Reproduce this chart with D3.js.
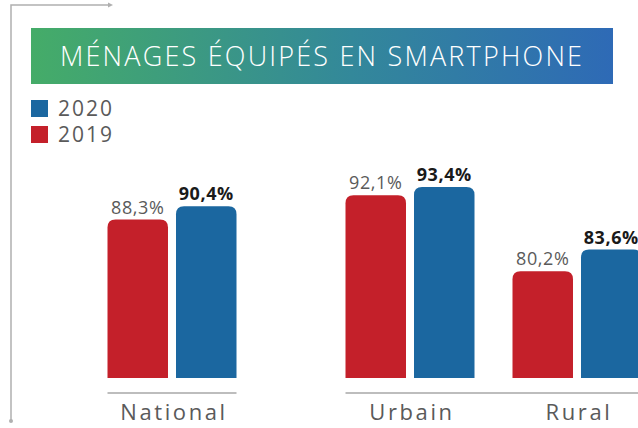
<!DOCTYPE html>
<html>
<head>
<meta charset="utf-8">
<script src="https://cdn.jsdelivr.net/npm/d3@7"></script>
<style>
  body { margin: 0; background: #fff; }
  svg { display: block; }
</style>
</head>
<body>
<svg id="chart" width="638" height="428"></svg>
<script>
var categories = ['National', 'Urbain', 'Rural'];
var groups = [0, 1, 1];            // National stands apart, Urbain + Rural share a rule
var years = ['2019', '2020'];
var values2019 = [88.3, 92.1, 80.2];
var values2020 = [90.4, 93.4, 83.6];
var legendYears = ['2020', '2019'];
var title = 'MÉNAGES ÉQUIPÉS EN SMARTPHONE';

var red = '#C4202A';
var blue = '#1B67A0';
var grey = '#5a5a5a';
var groupGap = 71;

function fmt(v) {
  return d3.format('.1f')(v).replace('.', ',') + '%';
}

function drawFrame(svg) {
  var lineColor = '#b0b0b0';
  svg.append('path')
    .attr('d', 'M11,421 L11,5 L111,5')
    .attr('fill', 'none')
    .attr('stroke', lineColor)
    .attr('stroke-width', 1.5);
  svg.append('path')
    .attr('d', 'M108,2.5 L113,5 L108,7.5 Z')
    .attr('fill', lineColor);
  svg.append('circle')
    .attr('cx', 11).attr('cy', 421).attr('r', 2)
    .attr('fill', lineColor);
}

function drawTitle(svg) {
  var grad = svg.append('defs').append('linearGradient')
    .attr('id', 'banner')
    .attr('x1', '0%').attr('x2', '100%');
  grad.append('stop').attr('offset', '0%').attr('stop-color', '#45AC68');
  grad.append('stop').attr('offset', '55%').attr('stop-color', '#33889A');
  grad.append('stop').attr('offset', '100%').attr('stop-color', '#2E6AB6');

  svg.append('rect')
    .attr('x', 31).attr('y', 28)
    .attr('width', 582).attr('height', 56)
    .attr('fill', 'url(#banner)');

  svg.append('text')
    .attr('x', 321).attr('y', 66)
    .attr('text-anchor', 'middle')
    .attr('fill', '#fff')
    .attr('textLength', 522)
    .attr('lengthAdjust', 'spacing')
    .style('font-family', '"Open Sans", sans-serif')
    .style('font-weight', 300)
    .style('font-size', '27px')
    .text(title);
}

function drawLegend(svg) {
  var color = { '2019': red, '2020': blue };
  var item = svg.append('g')
    .selectAll('g')
    .data(legendYears)
    .enter()
    .append('g')
      .attr('transform', function(d, i) { return 'translate(31,' + (100 + i * 26) + ')'; });
  item.append('rect')
    .attr('width', 17).attr('height', 17)
    .attr('fill', function(d) { return color[d]; });
  item.append('text')
    .attr('x', 27).attr('y', 16)
    .attr('fill', grey)
    .style('font-family', '"Open Sans", sans-serif')
    .style('font-size', '21px')
    .style('letter-spacing', '2px')
    .text(function(d) { return d; });
}

function drawBars(svg) {
  var baseline = 378;
  var x0 = d3.scaleBand()
    .domain(categories)
    .range([88.5, 88.5 + 3 * 167]);
  var x1 = d3.scaleBand()
    .domain(years)
    .range([19, 148])
    .paddingInner(0.117);
  var y = d3.scaleLinear()
    .domain([63.5, 93.4])
    .range([baseline, 187]);

  function gx(c) { return x0(c) + groups[categories.indexOf(c)] * groupGap; }

  var rows = [];
  categories.forEach(function(c, i) {
    rows.push({ cat: c, year: '2019', value: values2019[i] });
    rows.push({ cat: c, year: '2020', value: values2020[i] });
  });

  var r = 8;
  var w = x1.bandwidth();
  function barPath(d) {
    var left = gx(d.cat) + x1(d.year);
    var top = y(d.value);
    return 'M' + left + ',' + baseline +
      'L' + left + ',' + (top + r) +
      'Q' + left + ',' + top + ' ' + (left + r) + ',' + top +
      'L' + (left + w - r) + ',' + top +
      'Q' + (left + w) + ',' + top + ' ' + (left + w) + ',' + (top + r) +
      'L' + (left + w) + ',' + baseline + 'Z';
  }

  svg.append('g')
    .selectAll('path')
    .data(rows)
    .enter()
    .append('path')
      .attr('d', barPath)
      .attr('fill', function(d) { return d.year === '2019' ? red : blue; });

  svg.append('g')
    .selectAll('text')
    .data(rows)
    .enter()
    .append('text')
      .attr('x', function(d) { return gx(d.cat) + x1(d.year) + w / 2; })
      .attr('y', function(d) { return y(d.value) - 6; })
      .attr('text-anchor', 'middle')
      .attr('fill', function(d) { return d.year === '2019' ? grey : '#1a1a1a'; })
      .style('font-family', '"Open Sans", sans-serif')
      .style('font-size', '18px')
      .style('letter-spacing', '0.6px')
      .style('font-weight', function(d) { return d.year === '2019' ? 400 : 700; })
      .text(function(d) { return fmt(d.value); });

  // grey rules under each group of categories
  var ruleData = d3.groups(categories, function(c) { return groups[categories.indexOf(c)]; });
  svg.append('g')
    .selectAll('line')
    .data(ruleData)
    .enter()
    .append('line')
      .attr('x1', function(d) { return gx(d[1][0]) + x1('2019'); })
      .attr('x2', function(d) { return gx(d[1][d[1].length - 1]) + x1('2020') + w; })
      .attr('y1', 393).attr('y2', 393)
      .attr('stroke', '#bdbdbd')
      .attr('stroke-width', 2);

  svg.append('g')
    .selectAll('text')
    .data(categories)
    .enter()
    .append('text')
      .attr('x', function(c) { return gx(c) + x0.bandwidth() / 2 + 2; })
      .attr('y', 420)
      .attr('text-anchor', 'middle')
      .attr('fill', grey)
      .style('font-family', '"Open Sans", sans-serif')
      .style('font-size', '22px')
      .style('letter-spacing', '2.6px')
      .text(function(c) { return c; });
}

function init() {
  var svg = d3.select('#chart');
  drawFrame(svg);
  drawTitle(svg);
  drawLegend(svg);
  drawBars(svg);
}

init();
</script>
</body>
</html>
